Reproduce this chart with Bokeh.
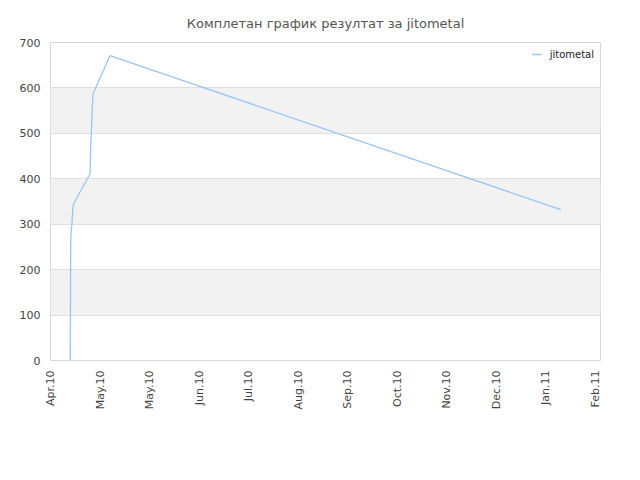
import math
import pandas as pd
from bokeh.plotting import figure
from bokeh.models import (FixedTicker, DatetimeTickFormatter, Range1d, Legend,
                          LegendItem)
from bokeh.embed import file_html
from bokeh.resources import INLINE

# --- data ---
dates = ["2010-04-13 00:00", "2010-04-13 04:00", "2010-04-13 08:00",
         "2010-04-13 12:00", "2010-04-14 00:00", "2010-04-14 12:00",
         "2010-04-15 00:00", "2010-04-25 00:00", "2010-04-25 08:00",
         "2010-04-25 16:00", "2010-04-26 06:00", "2010-04-26 18:00",
         "2010-05-07 00:00", "2011-02-04 00:00"]
scores = [0, 218, 275, 282, 301, 334, 345, 411, 470, 499, 554, 587, 671, 332]
series_name = "jitometal"
title_text = "Комплетан график резултат за jitometal"

tick_dates = ["2010-04-01", "2010-05-01", "2010-05-31", "2010-06-30",
              "2010-07-30", "2010-08-29", "2010-09-28", "2010-10-28",
              "2010-11-27", "2010-12-27", "2011-01-26", "2011-02-25"]
y_ticks = [0, 100, 200, 300, 400, 500, 600, 700]
x_start, x_end = "2010-04-01", "2011-02-28"

x = pd.to_datetime(dates)
p = figure(width=640, height=480, x_axis_type="datetime",
           output_backend="svg", toolbar_location=None,
           x_range=Range1d(pd.Timestamp(x_start), pd.Timestamp(x_end)),
           y_range=Range1d(0, 700),
           min_border_left=50, min_border_right=40,
           min_border_top=42, min_border_bottom=120)

r = p.line(x, scores, line_color="#99c5f4", line_width=1.3)

p.title.text = title_text
p.title.align = "center"
p.title.text_font = "DejaVu Sans"
p.title.text_font_size = "13px"
p.title.text_font_style = "normal"
p.title.text_color = "#555555"
p.title.standoff = 24

ms = [pd.Timestamp(d).value // 10**6 for d in tick_dates]
p.xaxis.ticker = FixedTicker(ticks=ms)
fmt = "%b.%y"
p.xaxis.formatter = DatetimeTickFormatter(
    milliseconds=fmt, seconds=fmt, minsec=fmt, minutes=fmt, hourmin=fmt,
    hours=fmt, days=fmt, months=fmt, years=fmt)
p.xaxis.major_label_orientation = math.pi / 2
p.yaxis.ticker = FixedTicker(ticks=y_ticks)

for ax in (p.xaxis, p.yaxis):
    ax.axis_line_color = None
    ax.major_tick_line_color = None
    ax.minor_tick_line_color = None
    ax.major_tick_out = 0
    ax.major_tick_in = 0
    ax.minor_tick_out = 0
    ax.major_label_text_color = "#444444"
    ax.major_label_text_font = "DejaVu Sans"
    ax.major_label_text_font_size = "11px"
    ax.major_label_standoff = 10

p.xgrid.grid_line_color = None
p.ygrid.grid_line_color = "#e0e0e0"
p.ygrid.band_fill_color = "#f2f2f2"
p.ygrid.band_fill_alpha = 1.0
p.outline_line_color = "#d8d8d8"

legend = Legend(items=[LegendItem(label=series_name, renderers=[r])],
                location="top_right", orientation="vertical")
legend.border_line_alpha = 0
legend.background_fill_alpha = 0
legend.label_text_font = "DejaVu Sans"
legend.label_text_font_size = "10px"
legend.label_text_color = "#222222"
legend.glyph_width = 10
legend.glyph_height = 12
legend.label_height = 12
legend.padding = 0
legend.margin = 6
legend.label_standoff = 8
p.add_layout(legend, "center")

open("out.html", "w").write(file_html(p, INLINE))
